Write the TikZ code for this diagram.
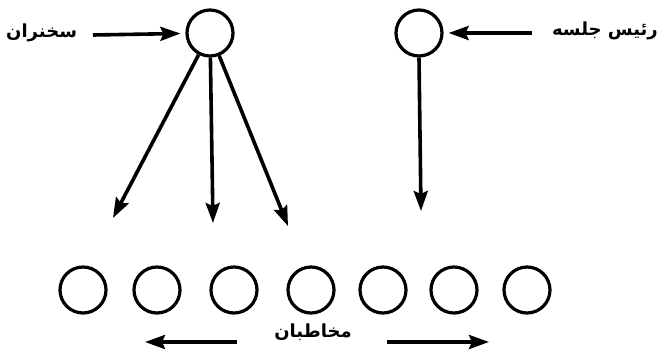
\documentclass[tikz,border=0pt]{standalone}
\usepackage{fontspec}
\usetikzlibrary{arrows.meta}
\newfontfamily\arabicfont[Script=Arabic]{DejaVu Sans}
\TeXXeTstate=1
\begin{document}
\begin{tikzpicture}[x=1pt,y=-1pt,
  person/.style={circle,draw,line width=3.2pt,minimum size=46pt,inner sep=0pt},
  lbl/.style={inner sep=0pt,font=\arabicfont\bfseries\fontsize{18}{22}\selectfont},
  arr/.style={line width=3.6pt,-{Stealth[length=20pt,width=14pt,inset=3pt]}}]
\useasboundingbox (0,0) rectangle (659,352);
% top
\node[person] (sp) at (210,33) {};
\node[person] (ch) at (419,33) {};
\node[lbl,anchor=west] (tsp) at (6,33) {\beginR سخنران\endR};
\node[lbl,anchor=east] (tch) at (658,31) {\beginR رئیس جلسه\endR};
\coordinate (spa) at (93,35);
\coordinate (cha) at (532,33);
\draw[arr,shorten >=5pt] (spa) -- (sp);
\draw[arr,shorten >=5pt] (cha) -- (ch);
% downward arrows
\coordinate (t1) at (113,218);
\coordinate (t2) at (213,223);
\coordinate (t3) at (288,226);
\coordinate (t4) at (421,211);
\draw[arr] (sp) -- (t1);
\draw[arr] (sp) -- (t2);
\draw[arr] (sp) -- (t3);
\draw[arr] (ch.south) -- (t4);
% audience
\foreach \i/\x in {1/83,2/157,3/234,4/311,5/383,6/454,7/527}{
  \node[person] (a\i) at (\x,290) {};
}
\node[lbl] (aud) at (313,332) {\beginR مخاطبان\endR};
\coordinate (l1) at (237,342);
\coordinate (l2) at (145,342);
\coordinate (r1) at (387,342);
\coordinate (r2) at (489,342);
\draw[arr] (l1) -- (l2);
\draw[arr] (r1) -- (r2);
\end{tikzpicture}
\end{document}
